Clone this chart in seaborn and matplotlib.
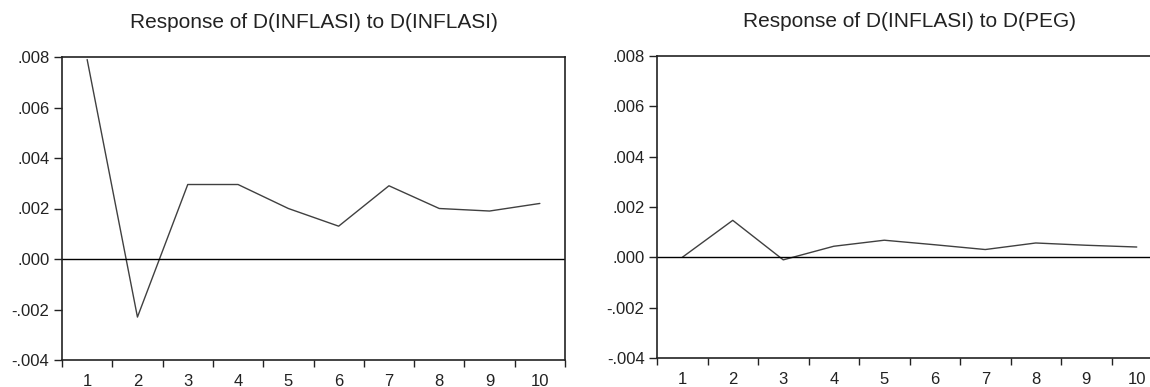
import matplotlib
matplotlib.use("Agg")
import matplotlib.pyplot as plt
import numpy as np
import pandas as pd
import seaborn as sns
from matplotlib.ticker import FixedLocator, FuncFormatter

periods = [1, 2, 3, 4, 5, 6, 7, 8, 9, 10]
resp_inflasi = [0.0079, -0.0023, 0.00295, 0.00295, 0.0020, 0.0013, 0.0029, 0.0020, 0.0019, 0.0022]
resp_peg = [0.0, 0.00147, -0.0001, 0.00044, 0.00068, 0.0005, 0.00031, 0.00057, 0.00048, 0.00041]
titles = ["Response of D(INFLASI) to D(INFLASI)", "Response of D(INFLASI) to D(PEG)"]
y_ticks = [-0.004, -0.002, 0.0, 0.002, 0.004, 0.006, 0.008]

sns.set_theme(style="white")
plt.rcParams["font.family"] = ["Liberation Sans", "DejaVu Sans"]


def fmt_y(v, pos):
    # EViews style: no leading zero, ".008" / "-.004"
    s = f"{abs(v):.3f}".replace("0.", ".", 1)
    return "-" + s if v < 0 else s


fig = plt.figure(figsize=(11.5, 3.87), dpi=100)
positions = [
    [62 / 1150, 27 / 387, 503 / 1150, 303 / 387],
    [657 / 1150, 29 / 387, 505 / 1150, 302 / 387],
]

for pos, series, title in zip(positions, [resp_inflasi, resp_peg], titles):
    ax = fig.add_axes(pos)
    df = pd.DataFrame({"period": periods, "response": series})
    sns.lineplot(data=df, x="period", y="response", ax=ax, color="#404040", linewidth=1.0)
    ax.axhline(0, color="black", linewidth=1.0)

    ax.set_xlim(0.5, 10.5)
    ax.set_ylim(-0.004, 0.008)
    ax.set_xlabel("")
    ax.set_ylabel("")

    # tick marks between periods, labels centred on periods
    ax.xaxis.set_major_locator(FixedLocator(np.arange(0.5, 11, 1.0)))
    ax.xaxis.set_major_formatter(FuncFormatter(lambda v, p: ""))
    ax.xaxis.set_minor_locator(FixedLocator(periods))
    ax.xaxis.set_minor_formatter(FuncFormatter(lambda v, p: f"{int(round(v))}"))
    ax.tick_params(axis="x", which="major", direction="out", length=5, width=1.0,
                   color="#222222", bottom=True)
    ax.tick_params(axis="x", which="minor", length=0, pad=10, labelsize=12,
                   labelcolor="#222222", bottom=True)

    ax.yaxis.set_major_locator(FixedLocator(y_ticks))
    ax.yaxis.set_major_formatter(FuncFormatter(fmt_y))
    ax.tick_params(axis="y", direction="out", length=6, width=1.0, color="#222222",
                   pad=3, labelsize=12, labelcolor="#222222", left=True)

    for sp in ax.spines.values():
        sp.set_color("#222222")
        sp.set_linewidth(1.2)

    ax.text(0.5, 1 + 29 / 303, title, transform=ax.transAxes, ha="center",
            va="baseline", fontsize=15, color="#222222")

fig.savefig("out.png", dpi=100)
